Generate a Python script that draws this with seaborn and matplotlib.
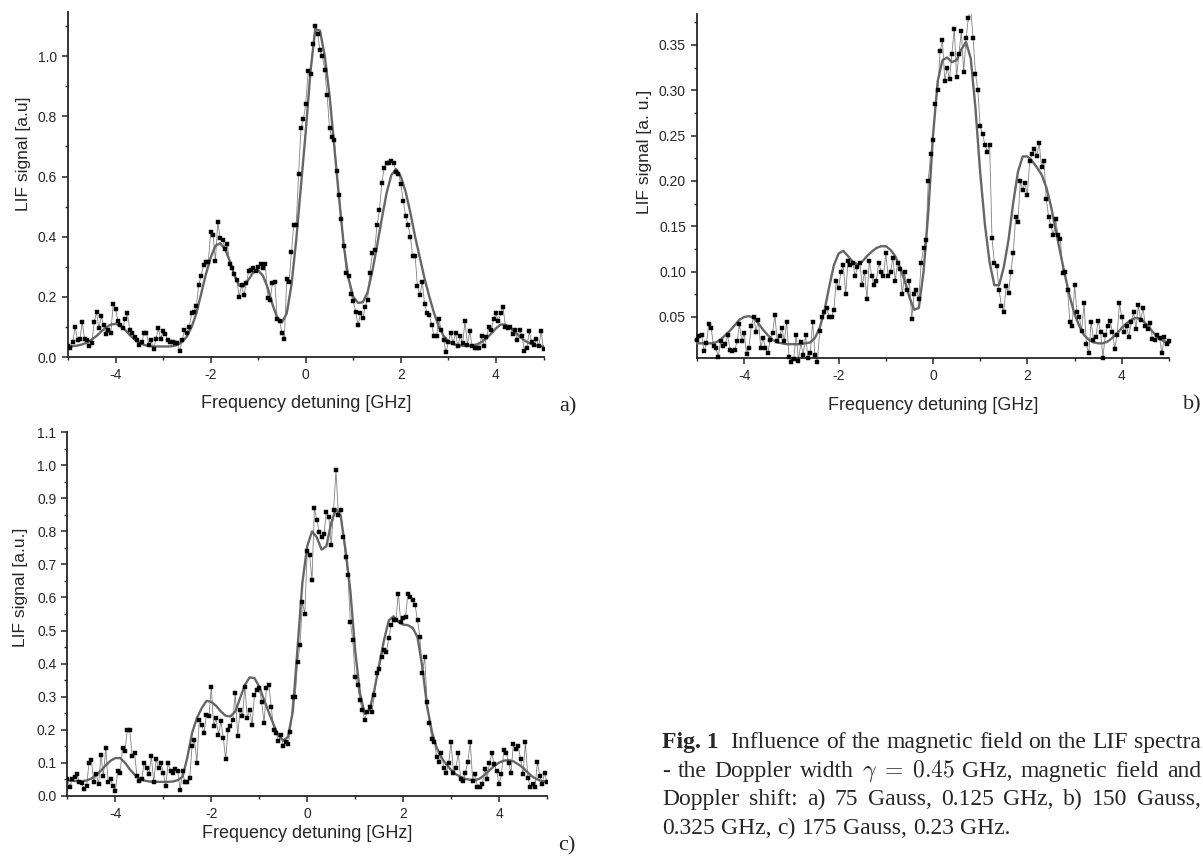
import numpy as np
import pandas as pd
import matplotlib
matplotlib.use("Agg")
import matplotlib.pyplot as plt
import seaborn as sns
from matplotlib.ticker import MultipleLocator, FormatStrFormatter
from matplotlib.transforms import Bbox, TransformedBbox

lif_a = [
    0.035, 0.030, 0.050, 0.100, 0.055, 0.060, 0.115, 0.060, 0.055, 0.035,
    0.045, 0.115, 0.150, 0.095, 0.135, 0.105, 0.075, 0.090, 0.080, 0.175,
    0.160, 0.120, 0.105, 0.095, 0.125, 0.145, 0.090, 0.080, 0.065, 0.055,
    0.040, 0.050, 0.080, 0.080, 0.040, 0.055, 0.025, 0.060, 0.095, 0.060,
    0.085, 0.075, 0.055, 0.050, 0.050, 0.045, 0.045, 0.020, 0.055, 0.090,
    0.080, 0.100, 0.145, 0.150, 0.170, 0.240, 0.270, 0.305, 0.315, 0.315,
    0.415, 0.405, 0.320, 0.450, 0.395, 0.390, 0.360, 0.375, 0.310, 0.295,
    0.275, 0.255, 0.200, 0.240, 0.205, 0.245, 0.285, 0.290, 0.295, 0.285,
    0.300, 0.310, 0.295, 0.310, 0.195, 0.190, 0.245, 0.250, 0.125, 0.120,
    0.080, 0.060, 0.260, 0.250, 0.350, 0.440, 0.440, 0.610, 0.760, 0.790,
    0.840, 0.950, 0.940, 1.040, 1.100, 1.075, 1.020, 1.000, 0.955, 0.870,
    0.760, 0.730, 0.720, 0.620, 0.540, 0.460, 0.370, 0.280, 0.270, 0.210,
    0.185, 0.150, 0.105, 0.145, 0.130, 0.165, 0.190, 0.280, 0.345, 0.355,
    0.440, 0.490, 0.580, 0.630, 0.645, 0.645, 0.650, 0.645, 0.615, 0.610,
    0.575, 0.520, 0.470, 0.440, 0.400, 0.335, 0.335, 0.235, 0.205, 0.250,
    0.175, 0.145, 0.140, 0.105, 0.070, 0.070, 0.125, 0.090, 0.055, 0.015,
    0.050, 0.080, 0.045, 0.080, 0.035, 0.070, 0.045, 0.120, 0.040, 0.085,
    0.035, 0.030, 0.030, 0.030, 0.070, 0.035, 0.065, 0.100, 0.090, 0.125,
    0.145, 0.120, 0.145, 0.165, 0.100, 0.095, 0.100, 0.075, 0.090, 0.055,
    0.090, 0.070, 0.020, 0.030, 0.085, 0.050, 0.040, 0.060, 0.035, 0.085,
    0.025,
]
lif_b = [
    0.025, 0.029, 0.030, 0.012, 0.021, 0.042, 0.038, 0.018, 0.016, 0.006,
    0.023, 0.018, 0.020, 0.030, 0.014, 0.013, 0.014, 0.023, 0.042, 0.023,
    0.032, 0.009, 0.016, 0.040, 0.050, 0.034, 0.047, 0.016, 0.027, 0.016,
    0.010, 0.025, 0.032, 0.052, 0.023, 0.029, 0.038, 0.023, 0.045, 0.006,
    0.000, 0.004, 0.030, 0.002, 0.022, 0.008, 0.030, 0.005, 0.010, 0.045,
    0.008, 0.000, 0.035, 0.050, 0.055, 0.060, 0.050, 0.050, 0.058, 0.090,
    0.082, 0.100, 0.107, 0.075, 0.112, 0.107, 0.110, 0.095, 0.105, 0.110,
    0.085, 0.100, 0.070, 0.112, 0.095, 0.085, 0.090, 0.110, 0.100, 0.095,
    0.120, 0.095, 0.100, 0.115, 0.090, 0.110, 0.103, 0.075, 0.100, 0.080,
    0.090, 0.048, 0.075, 0.080, 0.070, 0.110, 0.126, 0.135, 0.200, 0.230,
    0.245, 0.285, 0.300, 0.343, 0.355, 0.310, 0.325, 0.312, 0.340, 0.368,
    0.315, 0.340, 0.365, 0.320, 0.357, 0.380, 0.390, 0.357, 0.318, 0.300,
    0.260, 0.252, 0.240, 0.232, 0.240, 0.137, 0.110, 0.106, 0.080, 0.062,
    0.056, 0.084, 0.076, 0.100, 0.120, 0.160, 0.155, 0.200, 0.190, 0.198,
    0.185, 0.222, 0.230, 0.235, 0.228, 0.242, 0.215, 0.222, 0.180, 0.160,
    0.150, 0.140, 0.158, 0.140, 0.136, 0.098, 0.100, 0.080, 0.045, 0.040,
    0.085, 0.055, 0.050, 0.035, 0.065, 0.020, 0.010, 0.045, 0.025, 0.028,
    0.046, 0.034, 0.005, 0.030, 0.040, 0.046, 0.034, 0.015, 0.030, 0.065,
    0.050, 0.033, 0.040, 0.028, 0.045, 0.055, 0.037, 0.063, 0.047, 0.060,
    0.040, 0.037, 0.043, 0.026, 0.025, 0.030, 0.027, 0.010, 0.028, 0.020,
    0.024,
]
lif_c = [
    0.050, 0.027, 0.050, 0.057, 0.065, 0.040, 0.037, 0.019, 0.028, 0.100,
    0.108, 0.042, 0.065, 0.035, 0.122, 0.060, 0.145, 0.040, 0.050, 0.030,
    0.015, 0.075, 0.070, 0.143, 0.135, 0.200, 0.200, 0.120, 0.130, 0.060,
    0.045, 0.050, 0.100, 0.085, 0.065, 0.120, 0.040, 0.110, 0.085, 0.100,
    0.070, 0.030, 0.100, 0.075, 0.070, 0.080, 0.075, 0.017, 0.075, 0.040,
    0.040, 0.055, 0.150, 0.170, 0.100, 0.230, 0.215, 0.190, 0.245, 0.240,
    0.330, 0.210, 0.235, 0.185, 0.225, 0.175, 0.110, 0.200, 0.210, 0.230,
    0.310, 0.180, 0.260, 0.240, 0.330, 0.235, 0.260, 0.215, 0.305, 0.320,
    0.325, 0.285, 0.220, 0.325, 0.335, 0.270, 0.200, 0.190, 0.165, 0.185,
    0.150, 0.163, 0.158, 0.194, 0.300, 0.300, 0.405, 0.455, 0.587, 0.550,
    0.740, 0.730, 0.652, 0.872, 0.834, 0.798, 0.783, 0.793, 0.860, 0.844,
    0.758, 0.864, 0.985, 0.849, 0.864, 0.783, 0.723, 0.667, 0.526, 0.470,
    0.360, 0.335, 0.289, 0.259, 0.229, 0.254, 0.269, 0.254, 0.304, 0.370,
    0.385, 0.420, 0.440, 0.435, 0.476, 0.516, 0.533, 0.531, 0.612, 0.526,
    0.539, 0.541, 0.612, 0.602, 0.592, 0.577, 0.531, 0.481, 0.370, 0.420,
    0.284, 0.219, 0.173, 0.163, 0.118, 0.103, 0.128, 0.083, 0.068, 0.098,
    0.163, 0.070, 0.085, 0.128, 0.052, 0.045, 0.070, 0.103, 0.163, 0.045,
    0.065, 0.027, 0.027, 0.035, 0.080, 0.050, 0.098, 0.128, 0.095, 0.075,
    0.035, 0.065, 0.138, 0.130, 0.100, 0.070, 0.158, 0.140, 0.150, 0.110,
    0.065, 0.163, 0.055, 0.027, 0.035, 0.027, 0.103, 0.060, 0.035, 0.070,
    0.040,
]

# fitted curves, 0.1 GHz steps
fit_a = [
    0.035, 0.036, 0.038, 0.042, 0.048, 0.058, 0.070, 0.085, 0.098, 0.108,
    0.110, 0.104, 0.090, 0.073, 0.058, 0.047, 0.040, 0.037, 0.035, 0.035,
    0.035, 0.035, 0.036, 0.040, 0.050, 0.068, 0.100, 0.145, 0.210, 0.275,
    0.330, 0.370, 0.378, 0.360, 0.320, 0.272, 0.237, 0.235, 0.258, 0.282,
    0.288, 0.270, 0.230, 0.175, 0.130, 0.115, 0.145, 0.240, 0.390, 0.570,
    0.750, 0.950, 1.090, 1.085, 1.000, 0.870, 0.700, 0.530, 0.370, 0.260,
    0.200, 0.180, 0.182, 0.215, 0.285, 0.370, 0.460, 0.545, 0.605, 0.625,
    0.600, 0.550, 0.480, 0.400, 0.330, 0.260, 0.200, 0.145, 0.100, 0.070,
    0.052, 0.043, 0.039, 0.037, 0.037, 0.038, 0.042, 0.050, 0.062, 0.078,
    0.095, 0.108, 0.108, 0.098, 0.083, 0.068, 0.055, 0.046, 0.040, 0.037,
    0.035,
]
fit_b = [
    0.021, 0.021, 0.021, 0.021, 0.022, 0.025, 0.030, 0.035, 0.041, 0.047,
    0.050, 0.051, 0.049, 0.043, 0.036, 0.030, 0.025, 0.022, 0.021, 0.020,
    0.020, 0.020, 0.020, 0.021, 0.022, 0.027, 0.038, 0.057, 0.083, 0.107,
    0.120, 0.123, 0.117, 0.111, 0.108, 0.111, 0.117, 0.122, 0.126, 0.128,
    0.128, 0.124, 0.117, 0.105, 0.090, 0.072, 0.058, 0.060, 0.100, 0.165,
    0.250, 0.310, 0.333, 0.336, 0.331, 0.333, 0.345, 0.353, 0.335, 0.280,
    0.209, 0.152, 0.110, 0.085, 0.085, 0.105, 0.135, 0.176, 0.210, 0.227,
    0.227, 0.222, 0.215, 0.207, 0.193, 0.172, 0.146, 0.120, 0.095, 0.072,
    0.053, 0.040, 0.030, 0.025, 0.022, 0.021, 0.021, 0.023, 0.027, 0.032,
    0.038, 0.043, 0.047, 0.049, 0.048, 0.043, 0.037, 0.031, 0.026, 0.023,
    0.021,
]
fit_c = [
    0.046, 0.045, 0.044, 0.044, 0.046, 0.052, 0.062, 0.076, 0.092, 0.106,
    0.114, 0.114, 0.100, 0.080, 0.064, 0.052, 0.046, 0.043, 0.042, 0.042,
    0.042, 0.042, 0.043, 0.047, 0.057, 0.115, 0.190, 0.235, 0.265, 0.287,
    0.284, 0.272, 0.255, 0.242, 0.240, 0.255, 0.295, 0.335, 0.358, 0.356,
    0.330, 0.290, 0.252, 0.215, 0.182, 0.167, 0.178, 0.255, 0.450, 0.645,
    0.755, 0.800, 0.782, 0.745, 0.755, 0.825, 0.868, 0.845, 0.743, 0.620,
    0.440, 0.310, 0.248, 0.260, 0.320, 0.395, 0.470, 0.530, 0.543, 0.526,
    0.518, 0.516, 0.508, 0.480, 0.390, 0.270, 0.194, 0.145, 0.115, 0.095,
    0.078, 0.065, 0.057, 0.051, 0.048, 0.047, 0.052, 0.063, 0.077, 0.090,
    0.100, 0.106, 0.108, 0.104, 0.095, 0.085, 0.070, 0.057, 0.049, 0.044,
    0.042,
]

freq_meas = np.round(np.linspace(-5, 5, 201), 2)
freq_fit = np.round(np.linspace(-5, 5, 101), 2)

x_major = [-4, -2, 0, 2, 4]
x_minor = [-5, -3, -1, 1, 3, 5]

caption = [
    ["Fig. 1", "Influence", "of", "the", "magnetic", "field", "on", "the", "LIF", "spectra"],
    ["-", "the", "Doppler", "width", r"$\gamma\;=\;0.45$", "GHz,", "magnetic", "field", "and"],
    ["Doppler", "shift:", "a)", "75", "Gauss,", "0.125", "GHz,", "b)", "150", "Gauss,"],
    ["0.325", "GHz,", "c)", "175", "Gauss,", "0.23", "GHz."],
]

sns.set_style("ticks")
plt.rcParams["font.family"] = ["Liberation Sans", "DejaVu Sans"]
plt.rcParams["mathtext.fontset"] = "cm"

W, H = 1203, 856
fig = plt.figure(figsize=(W / 100, H / 100), dpi=100)


def px_axes(left, top, right, bottom):
    return fig.add_axes([left / W, 1 - bottom / H, (right - left) / W, (bottom - top) / H])


def draw_panel(ax, meas, fit, ylim, ymaj, ymin, fmt, ylabel, ylab_pos, xlab_y, clip_low=None):
    df = pd.DataFrame({"freq": freq_meas, "lif": meas})
    dfit = pd.DataFrame({"freq": freq_fit, "lif": fit})
    sns.lineplot(data=df, x="freq", y="lif", ax=ax, color="#808080", lw=0.6, zorder=2)
    sns.lineplot(data=dfit, x="freq", y="lif", ax=ax, color="#666666", lw=1.7, zorder=3)
    sns.scatterplot(data=df, x="freq", y="lif", ax=ax, marker="s", s=7, color="black",
                    edgecolor="black", linewidth=0.3, zorder=4)
    ax.set_xlim(-5, 5)
    ax.set_ylim(*ylim)
    ax.set_xticks(x_major)
    ax.set_xticks(x_minor, minor=True)
    ax.yaxis.set_major_locator(MultipleLocator(ymaj))
    ax.yaxis.set_minor_locator(MultipleLocator(ymin))
    ax.yaxis.set_major_formatter(FormatStrFormatter(fmt))
    ax.set_xticklabels([str(v) for v in x_major])
    ax.tick_params(which="major", direction="out", length=4, width=1.1, labelsize=10, pad=4)
    ax.tick_params(which="minor", direction="out", length=2.5, width=1.0)
    sns.despine(ax=ax)
    for s in ("left", "bottom"):
        ax.spines[s].set_linewidth(1.3)
    ax.set_xlabel("Frequency detuning [GHz]", fontsize=13)
    ax.set_ylabel(ylabel, fontsize=12.5)
    ax.xaxis.set_label_coords(0.5, xlab_y)
    ax.yaxis.set_label_coords(*ylab_pos)
    if clip_low is not None:
        box = TransformedBbox(Bbox([[-5.5, clip_low], [5.5, ylim[1]]]), ax.transData)
        for art in ax.lines + ax.collections:
            art.set_clip_box(box)


ax_a = px_axes(68, 12, 543.5, 357)
draw_panel(ax_a, lif_a, fit_a, (0, 1.147), 0.2, 0.1, "%.1f", "LIF signal [a.u]",
           (-0.078, 0.59), -0.11)

ax_b = px_axes(697, 14, 1169, 358)
draw_panel(ax_b, lif_b, fit_b, (0.0048, 0.384), 0.05, 0.025, "%.2f", "LIF signal [a. u.]",
           (-0.095, 0.6), -0.113, clip_low=-0.01)

ax_c = px_axes(67.4, 432.3, 547, 795.7)
draw_panel(ax_c, lif_c, fit_c, (0, 1.1), 0.1, 0.05, "%.1f", "LIF signal [a.u.]",
           (-0.082, 0.574), -0.081)

serif = ["Liberation Serif", "DejaVu Serif"]
for lab, (xp, yp) in zip(["a)", "b)", "c)"], [(568, 407), (1192, 405), (567, 846)]):
    fig.text(xp / W, 1 - yp / H, lab, fontsize=16, family=serif, ha="center", va="center")

# caption, justified like the printed text
renderer = fig.canvas.get_renderer()
x0, x1 = 662, 1201
baselines = [748, 777, 805, 834]
for i, (words, yb) in enumerate(zip(caption, baselines)):
    arts = []
    for j, w in enumerate(words):
        bold = (i == 0 and j == 0)
        arts.append(fig.text(0, 1 - yb / H, w, fontsize=17, family=serif,
                             weight="bold" if bold else "normal", ha="left", va="baseline"))
    widths = [a.get_window_extent(renderer).width for a in arts]
    weights = [2.0 if (i == 0 and j == 0) else 1.0 for j in range(len(arts) - 1)]
    if i < len(caption) - 1:
        gap = (x1 - x0 - sum(widths)) / sum(weights)
    else:
        gap = 6.0
    xpos = x0
    for j, (a, wd) in enumerate(zip(arts, widths)):
        a.set_x(xpos / W)
        if j < len(weights):
            xpos += wd + gap * weights[j]

fig.savefig("out.png", dpi=100)
